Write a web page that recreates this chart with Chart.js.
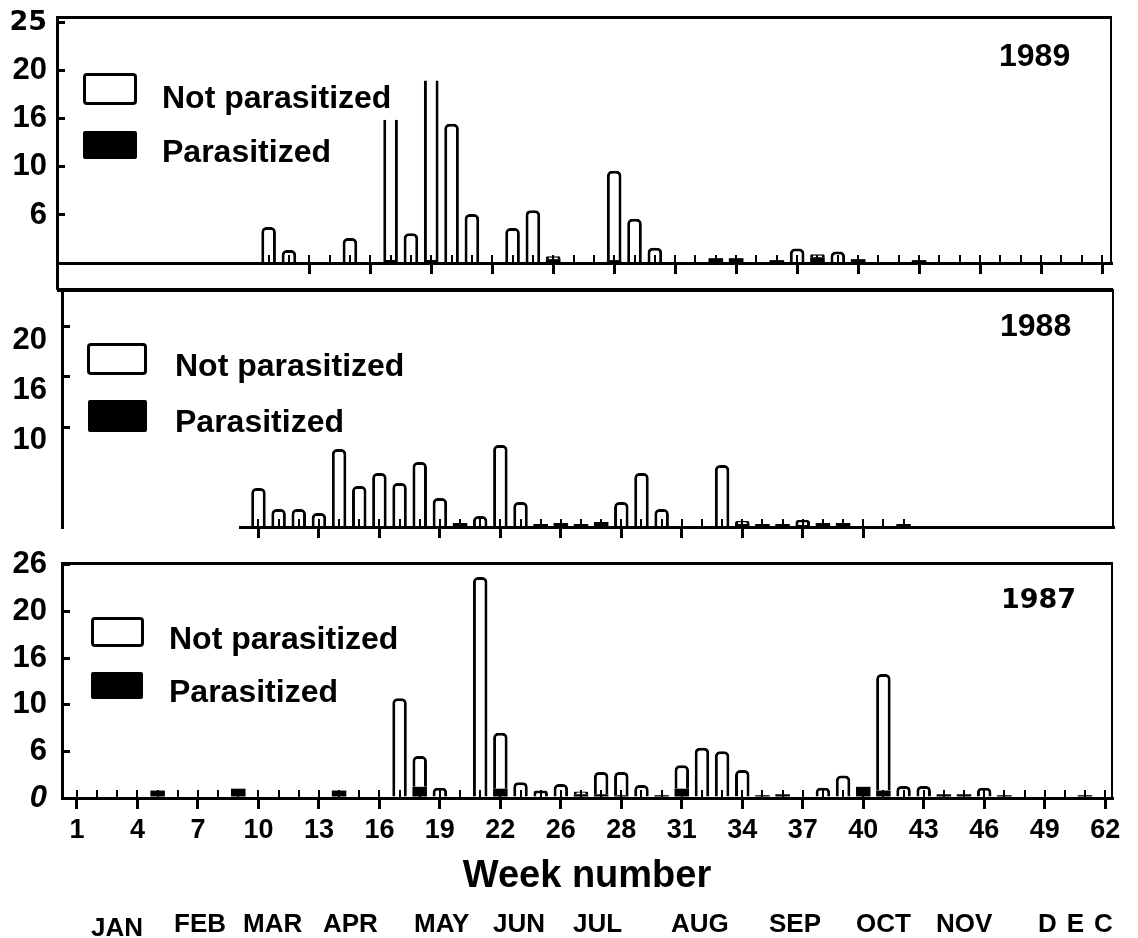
<!DOCTYPE html>
<html>
<head>
<meta charset="utf-8">
<title>Not parasitized / Parasitized by week number, 1987-1989</title>
<script src="https://cdn.jsdelivr.net/npm/chart.js@4.4.1/dist/chart.umd.min.js"></script>
<style>
  html, body { margin: 0; padding: 0; background: #fff; }
  #page { position: relative; width: 1138px; height: 938px; overflow: hidden; background: #fff;
          font-family: "Liberation Sans", Arial, Helvetica, sans-serif; font-weight: bold; color: #000; }
  canvas { position: absolute; left: 0; }
  .txt { position: absolute; white-space: nowrap; line-height: 1; }
  .key { position: absolute; box-sizing: border-box; border: 3px solid #000; border-radius: 4px; background: #fff; }
  .key.solid { background: #000; border-radius: 2px; }
  .rule { position: absolute; background: #000; }
  .legend { font-size: 32px; }
  .year { font-size: 32px; }
  .month { font-size: 26px; top: 910px; }
</style>
</head>
<body>
<div id="page">
  <canvas id="c1989" width="1138" height="300" style="top:0px"></canvas>
  <canvas id="c1988" width="1138" height="280" style="top:270px"></canvas>
  <canvas id="c1987" width="1138" height="398" style="top:540px"></canvas>

  <!-- frame bits that are not axes -->
  <div class="rule" style="left:56px; top:262px; width:3px; height:28px"></div>
  <div class="rule" style="left:57px; top:288px; width:1056px; height:4px"></div>

  <!-- 1989 -->
  <div class="key" style="left:83px; top:73px; width:54px; height:32px"></div>
  <div class="key solid" style="left:83px; top:131px; width:54px; height:28px"></div>
  <div class="txt legend" style="left:162px; top:81px">Not parasitized</div>
  <div class="txt legend" style="left:162px; top:135px">Parasitized</div>
  <div class="txt year" style="left:999px; top:39px">1989</div>

  <!-- 1988 -->
  <div class="key" style="left:87px; top:343px; width:60px; height:32px"></div>
  <div class="key solid" style="left:88px; top:400px; width:59px; height:32px"></div>
  <div class="txt legend" style="left:175px; top:349px">Not parasitized</div>
  <div class="txt legend" style="left:175px; top:405px">Parasitized</div>
  <div class="txt year" style="left:1000px; top:309px">1988</div>

  <!-- 1987 -->
  <div class="key" style="left:91px; top:617px; width:53px; height:30px"></div>
  <div class="key solid" style="left:91px; top:672px; width:52px; height:27px"></div>
  <div class="txt legend" style="left:169px; top:622px">Not parasitized</div>
  <div class="txt legend" style="left:169px; top:675px">Parasitized</div>
  <div class="txt" style="left:1001px; top:585px; font-size:27px; font-family:'DejaVu Sans', sans-serif">1987</div>

  <!-- months -->
  <div class="txt month" style="left:91px; top:914px">JAN</div>
  <div class="txt month" style="left:174px">FEB</div>
  <div class="txt month" style="left:243px">MAR</div>
  <div class="txt month" style="left:323px">APR</div>
  <div class="txt month" style="left:414px">MAY</div>
  <div class="txt month" style="left:493px">JUN</div>
  <div class="txt month" style="left:573px">JUL</div>
  <div class="txt month" style="left:671px">AUG</div>
  <div class="txt month" style="left:769px">SEP</div>
  <div class="txt month" style="left:856px">OCT</div>
  <div class="txt month" style="left:936px">NOV</div>
  <div class="txt month" style="left:1038px; letter-spacing:10px">DEC</div>
</div>

<script>
const SANS = '"Liberation Sans", Arial, Helvetica, sans-serif'
const DEJAVU = '"DejaVu Sans", sans-serif'

// weeks of the year (x categories)
const weeks = [
  1, 2, 3, 4, 5, 6, 7, 8, 9, 10,
  11, 12, 13, 14, 15, 16, 17, 18, 19, 20,
  21, 22, 23, 24, 25, 26, 27, 28, 29, 30,
  31, 32, 33, 34, 35, 36, 37, 38, 39, 40,
  41, 42, 43, 44, 45, 46, 47, 48, 49, 50,
  51, 52
]
// labelled (major) weeks and the text printed under them
const majorWeeks = [1, 4, 7, 10, 13, 16, 19, 22, 25, 28, 31, 34, 37, 40, 43, 46, 49, 52]
const weekTickLabels = ['1', '4', '7', '10', '13', '16', '19', '22', '26', '28', '31', '34', '37', '40', '43', '46', '49', '62']

// 1989
const notParasitized1989 = [
  0, 0, 0, 0, 0, 0, 0, 0, 0, 0,
  3.75, 1.35, 0, 0, 2.6, 0, 14.9, 3.1, 19.0, 14.5,
  5.1, 0, 3.65, 5.5, 0.3, 0, 0, 9.3, 4.6, 1.6,
  0, 0, 0, 0, 0, 0, 1.5, 0.3, 1.2, 0,
  0, 0, 0, 0, 0, 0, 0, 0, 0, 0,
  0, 0
]
const parasitized1989 = [
  0, 0, 0, 0, 0, 0, 0, 0, 0, 0,
  0, 0, 0, 0, 0, 0, 0, 0, 0, 0,
  0, 0, 0, 0, 0.4, 0, 0, 0.3, 0, 0,
  0, 0, 0.5, 0.5, 0, 0.3, 0, 0.6, 0, 0.4,
  0, 0, 0.3, 0, 0, 0, 0, 0, 0, 0,
  0, 0
]
const yTicks1989 = [5, 10, 15, 20, 25]
const yTickLabels1989 = ['6', '10', '16', '20', '25']

// 1988
const notParasitized1988 = [
  0, 0, 0, 0, 0, 0, 0, 0, 0, 3.9,
  1.8, 1.8, 1.4, 7.8, 4.1, 5.4, 4.4, 6.5, 2.9, 0,
  1.1, 8.2, 2.5, 0, 0, 0, 0, 2.5, 5.4, 1.8,
  0, 0, 6.2, 0.3, 0, 0, 0.5, 0, 0, 0,
  0, 0, 0, 0, 0, 0, 0, 0, 0, 0,
  0, 0
]
const parasitized1988 = [
  0, 0, 0, 0, 0, 0, 0, 0, 0, 0,
  0, 0, 0, 0, 0, 0, 0, 0, 0, 0.4,
  0, 0, 0, 0.3, 0.4, 0.3, 0.5, 0, 0, 0,
  0, 0, 0, 0.3, 0.3, 0.3, 0.2, 0.4, 0.4, 0,
  0, 0.3, 0, 0, 0, 0, 0, 0, 0, 0,
  0, 0
]
const yTicks1988 = [10, 15, 20]
const yTickLabels1988 = ['10', '16', '20']

// 1987
const notParasitized1987 = [
  0, 0, 0, 0, 0, 0, 0, 0, 0, 0,
  0, 0, 0, 0, 0, 0, 10.7, 3.3, 1.1, 0,
  23.7, 6.0, 1.7, 0.8, 1.5, 0.3, 2.4, 2.5, 1.4, 0,
  2.5, 5.4, 5.0, 3.0, 0, 0, 0, 1.1, 2.4, 0,
  12.5, 1.3, 1.3, 0, 0, 1.1, 0, 0, 0, 0,
  0, 0
]
const parasitized1987 = [
  0, 0, 0, 0, 0.8, 0, 0, 0, 1.0, 0,
  0, 0, 0, 0.8, 0, 0, 0, 1.2, 0, 0,
  0, 1.0, 0, 0, 0, 0.4, 0.4, 0.3, 0, 0.3,
  1.0, 0, 0, 0, 0.3, 0.4, 0, 0, 0, 1.2,
  0.8, 0, 0, 0.4, 0.4, 0, 0.3, 0, 0, 0,
  0.3, 0
]
const yTicks1987 = [0, 5, 10, 15, 20, 25]
const yTickLabels1987 = ['0', '6', '10', '16', '20', '26']

Chart.defaults.font.family = SANS
Chart.defaults.color = '#000'

const toPoints = values => weeks.map((w, i) => ({ x: w, y: values[i] }))

// keep the chart area where the layout padding puts it
function noPad (s) {
  s.paddingTop = 0
  s.paddingBottom = 0
  s.paddingLeft = 0
  s.paddingRight = 0
}

function labelAxis (o, id) {
  return {
    type: 'linear',
    position: 'left',
    weight: id === 'y' ? 0 : 1,
    min: 0,
    max: o.yMax,
    stacked: id === 'y',
    afterBuildTicks: s => { s.ticks = o.yTicks.map(v => ({ value: v })) },
    afterFit: s => { s.width = o.labelWidth; noPad(s) },
    grid: {
      drawOnChartArea: false,
      drawTicks: true,
      tickLength: -8,
      lineWidth: 3,
      color: '#000'
    },
    border: { display: true, width: 3, color: '#000' },
    ticks: {
      padding: o.yPad,
      labelOffset: o.yLabelOffset || 0,
      color: '#000',
      font: c => o.yFont(c.tick ? c.tick.value : null),
      callback: (v, i) => o.yLabels[i]
    }
  }
}

function panel (id, o) {
  const scales = {
    x: {
      type: 'linear',
      position: 'bottom',
      weight: 1,
      min: o.xMin,
      max: o.xMax,
      offset: false,
      stacked: true,
      afterBuildTicks: s => {
        s.ticks = majorWeeks.filter(w => w >= o.majorFrom && w <= o.majorTo).map(w => ({ value: w }))
      },
      afterFit: s => { s.height = o.xHeight; noPad(s) },
      grid: { offset: false, drawOnChartArea: false, drawTicks: true, tickLength: 11, lineWidth: 3, color: '#000' },
      border: { display: true, width: 3, color: '#000', z: 1 },
      ticks: {
        display: !!o.weekLabels,
        autoSkip: false,
        maxRotation: 0,
        padding: 5,
        color: '#000',
        font: { size: 27, weight: 'bold' },
        callback: v => weekTickLabels[majorWeeks.indexOf(v)]
      },
      title: {
        display: !!o.weekLabels,
        text: 'Week number',
        color: '#000',
        font: { size: 38, weight: 'bold' },
        padding: 0
      }
    },
    // small upward ticks on every week
    xm: {
      type: 'linear',
      position: 'bottom',
      weight: 0,
      min: o.xMin,
      max: o.xMax,
      offset: false,
      afterBuildTicks: s => {
        s.ticks = weeks.filter(w => w >= o.minorFrom && w <= o.minorTo).map(w => ({ value: w }))
      },
      afterFit: s => { s.height = 0; noPad(s) },
      grid: { offset: false, drawOnChartArea: false, drawTicks: true, tickLength: -8, lineWidth: 2, color: '#000', z: 1 },
      border: { display: false },
      ticks: { display: false }
    },
    yr: {
      type: 'linear',
      position: 'right',
      min: 0,
      max: o.yMax,
      afterFit: s => { s.width = 0; noPad(s) },
      grid: { display: false, drawTicks: false },
      border: { display: true, width: 2, color: '#000' },
      ticks: { display: false }
    }
  }

  if (o.splitAxis) {
    // value axis sits at the start of the baseline, labels on a separate axis at the frame
    scales.y = {
      type: 'linear',
      position: 'left',
      weight: 0,
      min: 0,
      max: o.yMax,
      stacked: true,
      afterFit: s => { s.width = o.gapWidth; noPad(s) },
      grid: { display: false, drawTicks: false },
      border: { display: false },
      ticks: { display: false }
    }
    scales.yl = labelAxis(o, 'yl')
  } else {
    scales.y = labelAxis(o, 'y')
    scales.xt = {
      type: 'linear',
      position: 'top',
      min: o.xMin,
      max: o.xMax,
      offset: false,
      afterFit: s => { s.height = 0; noPad(s) },
      grid: { display: false, drawTicks: false },
      border: { display: true, width: 3, color: '#000' },
      ticks: { display: false }
    }
  }

  return new Chart(document.getElementById(id), {
    type: 'bar',
    data: {
      datasets: [
        {
          label: 'Parasitized',
          data: toPoints(o.parasitized),
          xAxisID: 'x',
          yAxisID: 'y',
          backgroundColor: '#000',
          borderWidth: 0,
          barPercentage: 0.72,
          categoryPercentage: 1
        },
        {
          label: 'Not parasitized',
          data: toPoints(o.notParasitized),
          xAxisID: 'x',
          yAxisID: 'y',
          backgroundColor: '#fff',
          borderColor: '#000',
          borderWidth: 3,
          borderRadius: { topLeft: 5, topRight: 5, bottomLeft: 0, bottomRight: 0 },
          borderSkipped: c => (o.openTop || []).includes(c.raw && c.raw.x) ? 'end' : 'start',
          barPercentage: 0.72,
          categoryPercentage: 1
        }
      ]
    },
    options: {
      responsive: false,
      animation: false,
      devicePixelRatio: 1,
      layout: { padding: o.padding, autoPadding: false },
      plugins: {
        legend: { display: false },
        tooltip: { enabled: false },
        title: { display: false }
      },
      scales
    }
  })
}

const plainFont = () => ({ family: SANS, size: 31, weight: 'bold' })

panel('c1989', {
  notParasitized: notParasitized1989,
  parasitized: parasitized1989,
  openTop: [17, 19],
  xMin: 0.59,
  xMax: 52.44,
  majorFrom: 13,
  majorTo: 52,
  minorFrom: 11,
  minorTo: 52,
  xHeight: 14,
  padding: { top: 17, right: 27, bottom: 23, left: 0 },
  yMax: 25.6,
  yTicks: yTicks1989,
  yLabels: yTickLabels1989,
  labelWidth: 57,
  yPad: 18,
  yFont: v => v === 25 ? { family: DEJAVU, size: 27, weight: 'bold' } : plainFont()
})

panel('c1988', {
  notParasitized: notParasitized1988,
  parasitized: parasitized1988,
  splitAxis: true,
  xMin: 9.085,
  xMax: 52.39,
  majorFrom: 10,
  majorTo: 40,
  minorFrom: 10,
  minorTo: 42,
  xHeight: 14,
  padding: { top: 20, right: 25, bottom: 9, left: 0 },
  yMax: 23.7,
  yTicks: yTicks1988,
  yLabels: yTickLabels1988,
  labelWidth: 62,
  gapWidth: 178,
  yPad: 23,
  yLabelOffset: 13,
  yFont: plainFont
})

panel('c1987', {
  notParasitized: notParasitized1987,
  parasitized: parasitized1987,
  weekLabels: true,
  xMin: 0.256,
  xMax: 52.34,
  majorFrom: 1,
  majorTo: 52,
  minorFrom: 1,
  minorTo: 52,
  xHeight: 101,
  padding: { top: 23, right: 26, bottom: 39, left: 0 },
  yMax: 25.2,
  yTicks: yTicks1987,
  yLabels: yTickLabels1987,
  labelWidth: 62,
  yPad: 23,
  yFont: v => v === 0 ? { family: SANS, size: 31, weight: 'bold', style: 'italic' } : plainFont()
})
</script>
</body>
</html>
